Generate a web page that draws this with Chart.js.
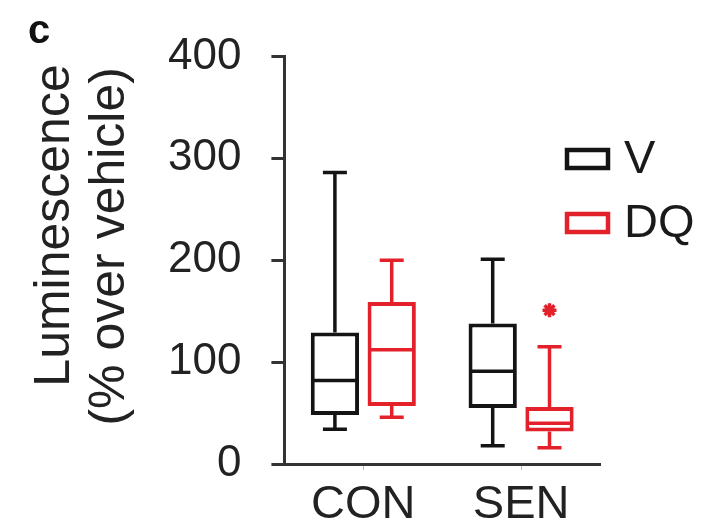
<!DOCTYPE html>
<html>
<head>
<meta charset="utf-8">
<script src="https://cdn.jsdelivr.net/npm/chart.js@4.4.0/dist/chart.umd.min.js"></script>
<style>
  html, body { margin: 0; padding: 0; background: #fff; }
</style>
</head>
<body>
<canvas id="boxCanvas" width="723" height="531"></canvas>
<script>
// Box-plot stats (% over vehicle)
const categories = ['CON', 'SEN'];
const seriesNames = ['V', 'DQ'];
const vMin = [34, 18];
const vQ1 = [48, 55];
const vMedian = [82, 91];
const vQ3 = [129, 138];
const vMax = [286, 201];
const dqMin = [46, 16];
const dqQ1 = [57, 32];
const dqMedian = [112, 40];
const dqQ3 = [159, 56];
const dqMax = [200, 115];
const dqStars = [null, 151]; // height of the '*' significance mark
const yTicks = [0, 100, 200, 300, 400];

const BLACK = '#141414';
const RED = '#e3212a';
const FONT = "'Liberation Sans', Arial, sans-serif";

// Whiskers, caps and median lines, placed on the bar elements through the y scale
const whiskerPlugin = {
  id: 'whiskers',
  afterDatasetsDraw(chart) {
    const { ctx } = chart;
    const y = chart.scales.y;
    chart.data.datasets.forEach((ds, di) => {
      const meta = chart.getDatasetMeta(di);
      meta.data.forEach((bar, i) => {
        const x = bar.x;
        const half = bar.width / 2;
        const cap = 12;
        const pQ1 = y.getPixelForValue(ds.data[i][0]);
        const pQ3 = y.getPixelForValue(ds.data[i][1]);
        const pMin = y.getPixelForValue(ds.whiskerMin[i]);
        const pMax = y.getPixelForValue(ds.whiskerMax[i]);
        const pMed = y.getPixelForValue(ds.median[i]);
        ctx.save();
        ctx.strokeStyle = ds.borderColor;
        ctx.lineWidth = 3.5;
        ctx.beginPath();
        ctx.moveTo(x, pQ3); ctx.lineTo(x, pMax);
        ctx.moveTo(x - cap, pMax); ctx.lineTo(x + cap, pMax);
        ctx.moveTo(x, pQ1); ctx.lineTo(x, pMin);
        ctx.moveTo(x - cap, pMin); ctx.lineTo(x + cap, pMin);
        ctx.moveTo(x - half + 2, pMed); ctx.lineTo(x + half - 2, pMed);
        ctx.stroke();
        if (ds.stars && ds.stars[i] != null) {
          ctx.fillStyle = ds.borderColor;
          Chart.helpers.drawPoint(ctx, {
            pointStyle: 'star', radius: 7, rotation: 0, borderWidth: 2.5
          }, x, y.getPixelForValue(ds.stars[i]));
        }
        ctx.restore();
      });
    });
  }
};

// Small outlined-box legend to the right of the plot
const boxLegendPlugin = {
  id: 'boxLegend',
  afterDraw(chart) {
    const { ctx } = chart;
    chart.data.datasets.forEach((ds, di) => {
      const top = 148 + di * 64;
      ctx.save();
      ctx.strokeStyle = ds.borderColor;
      ctx.lineWidth = 4.5;
      ctx.strokeRect(567, top + 2, 41, 18);
      ctx.fillStyle = '#1a1a1a';
      ctx.font = '47px ' + FONT;
      ctx.textBaseline = 'middle';
      ctx.fillText(ds.label, 624, top + 12);
      ctx.restore();
    });
  }
};

new Chart(document.getElementById('boxCanvas'), {
  type: 'bar',
  data: {
    labels: categories,
    datasets: [
      {
        label: seriesNames[0],
        data: categories.map((_, i) => [vQ1[i], vQ3[i]]),
        median: vMedian,
        whiskerMin: vMin,
        whiskerMax: vMax,
        backgroundColor: '#ffffff',
        borderColor: BLACK,
        borderWidth: 4,
        borderSkipped: false,
        categoryPercentage: 0.72,
        barPercentage: 0.85,
      },
      {
        label: seriesNames[1],
        data: categories.map((_, i) => [dqQ1[i], dqQ3[i]]),
        median: dqMedian,
        whiskerMin: dqMin,
        whiskerMax: dqMax,
        stars: dqStars,
        backgroundColor: '#ffffff',
        borderColor: RED,
        borderWidth: 4,
        borderSkipped: false,
        categoryPercentage: 0.72,
        barPercentage: 0.85,
      },
    ],
  },
  options: {
    responsive: false,
    animation: false,
    layout: { padding: { left: 28, right: 123, top: 8, bottom: -10 } },
    plugins: {
      legend: { display: false },
      tooltip: { enabled: false },
      title: {
        display: true,
        text: 'c',
        align: 'start',
        color: '#111',
        font: { family: FONT, size: 40, weight: 'bold' },
        padding: { top: 0, bottom: 0 },
      },
    },
    scales: {
      x: {
        grid: {
          display: true, drawOnChartArea: false, drawTicks: true,
          offset: false, tickLength: 6, color: '#bbbbbb', lineWidth: 1,
        },
        border: { color: '#333', width: 3 },
        ticks: { color: '#222', padding: 12, font: { family: FONT, size: 47, lineHeight: 1.0 } },
      },
      y: {
        min: yTicks[0],
        max: yTicks[yTicks.length - 1],
        afterBuildTicks: (axis) => { axis.ticks = yTicks.map((v) => ({ value: v })); },
        grid: {
          drawOnChartArea: false, drawTicks: true,
          tickLength: 13, color: '#333', lineWidth: 3,
        },
        border: { color: '#333', width: 3 },
        ticks: { color: '#222', padding: 30, font: { family: FONT, size: 44 } },
        title: {
          display: true,
          text: ['     Luminescence', '  (% over vehicle)'],
          color: '#222',
          font: { family: FONT, size: 50, lineHeight: 1.1 },
          padding: { top: 0, bottom: 0 },
        },
      },
    },
  },
  plugins: [whiskerPlugin, boxLegendPlugin],
});
</script>
</body>
</html>
